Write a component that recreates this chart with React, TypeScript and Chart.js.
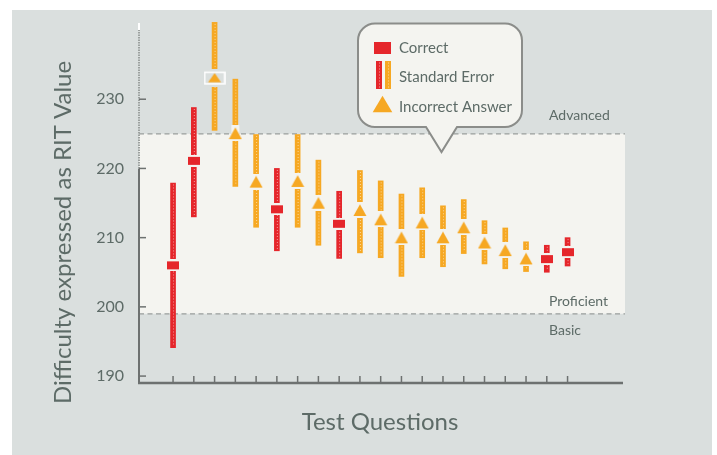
import React, { useEffect, useRef } from 'react';
import { Chart, registerables } from 'chart.js';

Chart.register(...registerables);

// ---- Data ----
const questions = [1, 2, 3, 4, 5, 6, 7, 8, 9, 10, 11, 12, 13, 14, 15, 16, 17, 18, 19, 20];
const difficulty = [206, 221.1, 233.1, 225.1, 218.1, 214.1, 218.2, 215.05, 212.0, 214.0, 212.65, 210.05, 212.2, 210.05, 211.5, 209.3, 208.2, 207.0, 206.9, 207.9];
const errorLow = [194.1, 213.0, 225.5, 217.4, 211.5, 208.1, 211.5, 208.9, 207.0, 207.8, 207.1, 204.4, 207.1, 205.8, 207.7, 206.2, 205.5, 205.1, 205.0, 205.9];
const errorHigh = [217.9, 228.8, 241.1, 232.9, 224.9, 220.0, 224.9, 221.2, 216.7, 219.7, 218.2, 216.3, 217.2, 214.6, 215.5, 212.45, 211.4, 209.4, 208.9, 210.0];
const answeredCorrectly = [true, true, false, false, false, true, false, false, true, false, false, false, false, false, false, false, false, false, true, true];
const highlightedQuestion = 3;
const yTickValues = [190, 200, 210, 220, 230];
const levelCutoffs = [199, 225];
const levelNames = ['Basic', 'Proficient', 'Advanced'];
const legendLabels = ['Correct', 'Standard Error', 'Incorrect Answer'];
const xTitle = 'Test Questions';
const yTitle = 'Difficulty expressed as RIT Value';

// ---- Styles ----
const RED = '#e5262b';
const ORANGE = '#f6a823';
const PANEL = '#dadfde';
const BAND = '#f4f4f0';
const TEXT = '#5d6b67';
const AXIS = '#6d7170';
const FONT = 'Lato';

function makeMarker(kind: 'rect' | 'tri' | 'triHi'): HTMLCanvasElement {
  const c = document.createElement('canvas');
  const g = c.getContext('2d')!;
  if (kind === 'rect') {
    c.width = 12; c.height = 12;
    g.fillStyle = BAND; g.fillRect(2, 0, 8, 12);
    g.fillStyle = RED; g.fillRect(0, 2, 12, 8);
  } else if (kind === 'tri') {
    c.width = 14; c.height = 16;
    g.fillStyle = BAND; g.fillRect(3, 0, 8, 16);
    g.fillStyle = ORANGE;
    g.beginPath(); g.moveTo(0.5, 14); g.lineTo(13.5, 14); g.lineTo(7, 2.2); g.closePath(); g.fill();
  } else {
    c.width = 22; c.height = 18;
    g.fillStyle = PANEL; g.fillRect(6, 0, 10, 18);
    g.strokeStyle = '#ffffff'; g.lineWidth = 1.6;
    g.strokeRect(1, 3.5, 20, 11.5);
    g.fillStyle = ORANGE;
    g.beginPath(); g.moveTo(4.5, 13.5); g.lineTo(17.5, 13.5); g.lineTo(11, 4.3); g.closePath(); g.fill();
  }
  return c;
}

const decorPlugin = {
  id: 'decor',
  beforeDraw(chart: any) {
    const { ctx, chartArea: ca, scales } = chart;
    const y = scales.y;
    const x = scales.x;
    ctx.save();
    ctx.fillStyle = '#ffffff';
    ctx.fillRect(0, 0, chart.width, chart.height);
    ctx.fillStyle = PANEL;
    ctx.fillRect(12, 10, chart.width - 17, chart.height - 10);

    const yTop = y.getPixelForValue(levelCutoffs[1]);
    const yBot = y.getPixelForValue(levelCutoffs[0]);
    ctx.fillStyle = BAND;
    ctx.fillRect(ca.left, yTop, ca.right + 2 - ca.left, yBot - yTop);
    ctx.strokeStyle = '#999e9c';
    ctx.lineWidth = 1.3;
    ctx.setLineDash([5, 3.5]);
    for (const yy of [yTop, yBot]) {
      ctx.beginPath(); ctx.moveTo(ca.left, yy); ctx.lineTo(ca.right + 2, yy); ctx.stroke();
    }
    ctx.setLineDash([]);

    ctx.fillStyle = TEXT;
    ctx.font = `14px ${FONT}`;
    ctx.textAlign = 'left';
    ctx.textBaseline = 'alphabetic';
    const lx = ca.right - 74;
    ctx.fillText(levelNames[2], lx, yTop - 14);
    ctx.fillText(levelNames[1], lx, yBot - 7.5);
    ctx.fillText(levelNames[0], lx, yBot + 21);

    // axes
    const y220 = y.getPixelForValue(220);
    ctx.strokeStyle = AXIS; ctx.lineWidth = 2;
    ctx.beginPath(); ctx.moveTo(ca.left, ca.bottom); ctx.lineTo(ca.left, y220); ctx.stroke();
    ctx.strokeStyle = '#9ca19f'; ctx.setLineDash([1.5, 1]);
    ctx.beginPath(); ctx.moveTo(ca.left, y220); ctx.lineTo(ca.left, ca.top); ctx.stroke();
    ctx.setLineDash([]);
    ctx.strokeStyle = '#ffffff';
    ctx.beginPath(); ctx.moveTo(ca.left, ca.top); ctx.lineTo(ca.left, ca.top - 7); ctx.stroke();

    ctx.strokeStyle = AXIS; ctx.lineWidth = 2.5;
    ctx.beginPath(); ctx.moveTo(ca.left - 1, ca.bottom); ctx.lineTo(ca.right, ca.bottom); ctx.stroke();

    ctx.lineWidth = 1.5;
    for (const q of questions) {
      const px = x.getPixelForValue(q);
      ctx.beginPath(); ctx.moveTo(px, ca.bottom); ctx.lineTo(px, ca.bottom - 7); ctx.stroke();
    }
    for (const v of yTickValues) {
      const py = y.getPixelForValue(v);
      ctx.beginPath(); ctx.moveTo(ca.left, py); ctx.lineTo(ca.left + 7, py); ctx.stroke();
    }

    // axis titles
    ctx.fillStyle = TEXT;
    ctx.font = `24px ${FONT}`;
    ctx.textAlign = 'center';
    ctx.textBaseline = 'alphabetic';
    ctx.fillText(xTitle, (ca.left + ca.right) / 2 - 1, ca.bottom + 47);
    ctx.save();
    ctx.translate(70.5, (ca.top + ca.bottom) / 2 + 26);
    ctx.rotate(-Math.PI / 2);
    ctx.fillText(yTitle, 0, 0);
    ctx.restore();
    ctx.restore();
  },
  afterDatasetDraw(chart: any, args: any) {
    if (args.index !== 0) return;
    const { ctx } = chart;
    const meta = chart.getDatasetMeta(0);
    ctx.save();
    ctx.strokeStyle = 'rgba(255,255,255,0.55)';
    ctx.lineWidth = 1;
    ctx.setLineDash([1, 2]);
    for (const el of meta.data) {
      const top = Math.min(el.y, el.base);
      const bot = Math.max(el.y, el.base);
      ctx.beginPath(); ctx.moveTo(el.x + 0.5, top + 1.5); ctx.lineTo(el.x + 0.5, bot - 1.5); ctx.stroke();
    }
    ctx.restore();
  },
  afterDraw(chart: any) {
    const { ctx } = chart;
    ctx.save();
    // legend bubble
    const L = 358, R = 522, T = 23.5, B = 127, r = 17;
    ctx.beginPath();
    ctx.moveTo(L + r, T);
    ctx.lineTo(R - r, T);
    ctx.arcTo(R, T, R, T + r, r);
    ctx.lineTo(R, B - r);
    ctx.arcTo(R, B, R - r, B, r);
    ctx.lineTo(457, B);
    ctx.lineTo(441.5, 152);
    ctx.lineTo(426, B);
    ctx.lineTo(L + r, B);
    ctx.arcTo(L, B, L, B - r, r);
    ctx.lineTo(L, T + r);
    ctx.arcTo(L, T, L + r, T, r);
    ctx.closePath();
    ctx.fillStyle = BAND;
    ctx.fill();
    ctx.strokeStyle = '#8b8d8a';
    ctx.lineWidth = 2;
    ctx.stroke();

    ctx.fillStyle = RED;
    ctx.fillRect(374, 42, 17, 12);
    ctx.fillRect(376, 61, 6, 28);
    ctx.fillStyle = ORANGE;
    ctx.fillRect(385, 61, 6, 28);
    ctx.beginPath(); ctx.moveTo(372.7, 112.3); ctx.lineTo(392.3, 112.3); ctx.lineTo(382.5, 95.7); ctx.closePath(); ctx.fill();
    ctx.strokeStyle = 'rgba(255,255,255,0.55)'; ctx.lineWidth = 1; ctx.setLineDash([1, 2]);
    for (const bx of [379.5, 388.5]) { ctx.beginPath(); ctx.moveTo(bx, 62.5); ctx.lineTo(bx, 87.5); ctx.stroke(); }
    ctx.setLineDash([]);

    ctx.fillStyle = TEXT;
    ctx.font = `15px ${FONT}`;
    ctx.textAlign = 'left';
    ctx.textBaseline = 'alphabetic';
    ctx.fillText(legendLabels[0], 399, 52.7);
    ctx.fillText(legendLabels[1], 399, 82);
    ctx.fillText(legendLabels[2], 399, 111.7);
    ctx.restore();
  },
};

export default function App() {
  const ref = useRef<HTMLCanvasElement | null>(null);
  useEffect(() => {
    const canvas = ref.current;
    if (!canvas) return;
    const rectMarker = makeMarker('rect');
    const triMarker = makeMarker('tri');
    const triHi = makeMarker('triHi');
    const chart = new Chart(canvas, {
      type: 'bar',
      data: {
        datasets: [
          {
            type: 'bar',
            label: legendLabels[1],
            data: questions.map((q, i) => ({ x: q, y: [errorLow[i], errorHigh[i]] })) as any,
            backgroundColor: (c: any) => (answeredCorrectly[c.dataIndex] ? RED : ORANGE),
            borderWidth: 0,
            barThickness: 5,
            clip: false as any,
            order: 2,
          } as any,
          {
            type: 'scatter',
            label: 'Answers',
            data: questions.map((q, i) => ({ x: q, y: difficulty[i] })),
            pointStyle: (c: any) => {
              const i = c.dataIndex;
              if (questions[i] === highlightedQuestion) return triHi;
              return answeredCorrectly[i] ? rectMarker : triMarker;
            },
            radius: 6,
            order: 1,
          } as any,
        ],
      },
      options: {
        responsive: false,
        animation: false,
        events: [],
        layout: { padding: { left: 0, right: 94, top: 30, bottom: 0 } },
        plugins: { legend: { display: false }, tooltip: { enabled: false } },
        scales: {
          x: {
            type: 'linear',
            min: -0.64,
            max: 22.67,
            offset: false,
            grid: { display: false, drawTicks: false },
            border: { display: false },
            ticks: { display: false },
            afterFit: (s: any) => { s.height = 72; },
          },
          y: {
            type: 'linear',
            min: 189,
            max: 240,
            grid: { display: false, drawTicks: false },
            border: { display: false },
            ticks: { padding: 15, color: TEXT, font: { size: 16, family: FONT } },
            afterBuildTicks: (s: any) => { s.ticks = yTickValues.map((v) => ({ value: v })); },
            afterFit: (s: any) => { s.width = 139; },
          },
        },
      } as any,
      plugins: [decorPlugin],
    });
    return () => chart.destroy();
  }, []);
  return (
    <div style={{ position: 'fixed', left: 0, top: 0, width: 717, height: 455 }}>
      <canvas ref={ref} width={717} height={455} style={{ display: 'block', width: 717, height: 455 }} />
    </div>
  );
}
